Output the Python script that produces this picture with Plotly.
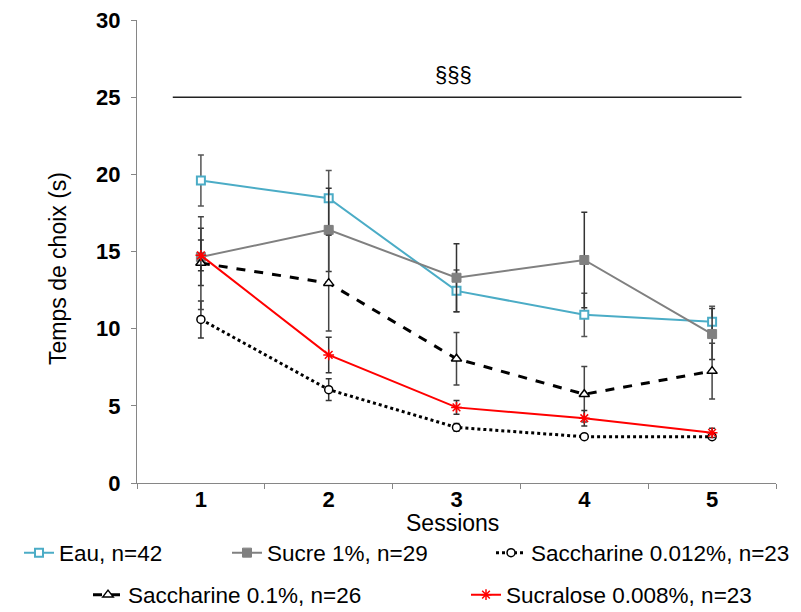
import plotly.graph_objects as go

sessions = [1, 2, 3, 4, 5]
tick_labels = ["1", "2", "3", "4", "5"]

eau = [19.6, 18.45, 12.45, 10.9, 10.45]
eau_err = [1.65, 1.8, 1.35, 1.4, 1.0]

sucre = [14.65, 16.4, 13.3, 14.45, 9.65]
sucre_err = [1.85, 2.7, 2.2, 3.1, 1.65]

sacch012 = [10.6, 6.05, 3.6, 3.0, 3.0]
sacch012_err = [1.2, 0.7, 0.25, 0.15, 0.15]

sacch01 = [14.25, 12.95, 8.05, 5.75, 7.25]
sacch01_err = [3.0, 3.1, 1.7, 1.8, 1.8]

sucralose = [14.75, 8.3, 4.9, 4.2, 3.25]
sucralose_err = [1.0, 1.15, 0.45, 0.5, 0.3]

names = ["Eau, n=42", "Sucre 1%, n=29", "Saccharine 0.012%, n=23",
         "Saccharine 0.1%, n=26", "Sucralose 0.008%, n=23"]

sig_y = 25
sig_x = [0.78, 5.23]
sig_label = "§§§"

FONT = "Liberation Sans"
OFF = 8  # page body margin
W, H = 801 - OFF, 612 - OFF
L, T = 137 - OFF, 20 - OFF
R = W - (776 - OFF)
B = H - (483 - OFF)
PW = W - L - R
PH = H - T - B

def px_to_paper_x(px):
    return (px - OFF - L) / PW

def px_to_paper_y(py):
    return (H - B - (py - OFF)) / PH

fig = go.Figure()

styles = [
    dict(y=eau, e=eau_err, color="#4BACC6", width=2, dash="solid",
         marker=dict(symbol="square", size=8, color="white", line=dict(color="#4BACC6", width=2)),
         ecolor="#555555", legend="legend", lx=19, ly=553),
    dict(y=sucre, e=sucre_err, color="#808080", width=2, dash="solid",
         marker=dict(symbol="square", size=9, color="#808080", line=dict(color="#808080", width=1)),
         ecolor="#333333", legend="legend2", lx=227, ly=553),
    dict(y=sacch012, e=sacch012_err, color="black", width=3, dash="dot",
         marker=dict(symbol="circle", size=8, color="white", line=dict(color="black", width=1.5)),
         ecolor="#333333", legend="legend3", lx=491, ly=553),
    dict(y=sacch01, e=sacch01_err, color="black", width=3, dash="dash",
         marker=dict(symbol="triangle-up", size=9, color="white", line=dict(color="black", width=1.5)),
         ecolor="#444444", legend="legend4", lx=88, ly=595),
    dict(y=sucralose, e=sucralose_err, color="#FF0000", width=2, dash="solid",
         marker=dict(symbol="asterisk-open", size=9, color="#FF0000", line=dict(color="#FF0000", width=1.5)),
         ecolor="#333333", legend="legend5", lx=466, ly=595),
]

for name, s in zip(names, styles):
    fig.add_trace(go.Scatter(
        x=sessions, y=s["y"], name=name, mode="lines+markers",
        line=dict(color=s["color"], width=s["width"], dash=s["dash"]),
        marker=s["marker"],
        error_y=dict(type="data", array=s["e"], visible=True, color=s["ecolor"],
                     thickness=1.5, width=3),
        legend=s["legend"],
    ))

legend_common = dict(orientation="h", xanchor="left", yanchor="middle",
                     font=dict(family=FONT, size=22.5, color="black"),
                     bgcolor="rgba(0,0,0,0)", borderwidth=0, itemwidth=30)
layout_legends = {}
for s in styles:
    layout_legends[s["legend"]] = dict(legend_common, x=px_to_paper_x(s["lx"]),
                                       y=px_to_paper_y(s["ly"]))

fig.add_shape(type="line", xref="x", yref="y", x0=sig_x[0], x1=sig_x[1],
              y0=sig_y, y1=sig_y, line=dict(color="#222222", width=1.5))
fig.add_annotation(x=(sig_x[0] + sig_x[1]) / 2 - 0.03, y=26.45, xref="x", yref="y",
                   text=sig_label, showarrow=False, xanchor="center", yanchor="middle",
                   font=dict(family=FONT, size=22, color="black"))

fig.add_annotation(x=px_to_paper_x(58), y=px_to_paper_y(269), xref="paper", yref="paper",
                   text="Temps de choix (s)", textangle=-90, showarrow=False,
                   xanchor="center", yanchor="middle",
                   font=dict(family=FONT, size=23, color="black"))
fig.add_annotation(x=px_to_paper_x(452), y=px_to_paper_y(523), xref="paper", yref="paper",
                   text="Sessions", showarrow=False, xanchor="center", yanchor="middle",
                   font=dict(family=FONT, size=23, color="black"))

fig.update_layout(
    width=W, height=H,
    margin=dict(l=L, r=R, t=T, b=B, autoexpand=False),
    plot_bgcolor="white", paper_bgcolor="white",
    font=dict(family=FONT, color="black"),
    showlegend=True,
    **layout_legends,
)

fig.update_xaxes(range=[0.5, 5.5], tickvals=sessions, ticktext=tick_labels,
                 ticks="", showgrid=False, zeroline=False,
                 showline=True, linecolor="#868686", linewidth=1, ticklabelstandoff=-3,
                 tickfont=dict(family=FONT, size=22, color="black", weight="bold"),
                 minor=dict(tickvals=[0.5, 1.5, 2.5, 3.5, 4.5, 5.5], ticks="outside",
                            ticklen=5, tickcolor="#868686", showgrid=False))
fig.update_yaxes(range=[0, 30], tickvals=[0, 5, 10, 15, 20, 25, 30], ticks="outside", ticklen=5,
                 tickcolor="#868686", showgrid=False, zeroline=False,
                 showline=True, linecolor="#868686", linewidth=1, ticklabelstandoff=6,
                 ticklabeloverflow="allow",
                 tickfont=dict(family=FONT, size=22, color="black", weight="bold"))

fig.write_html("out.html")
